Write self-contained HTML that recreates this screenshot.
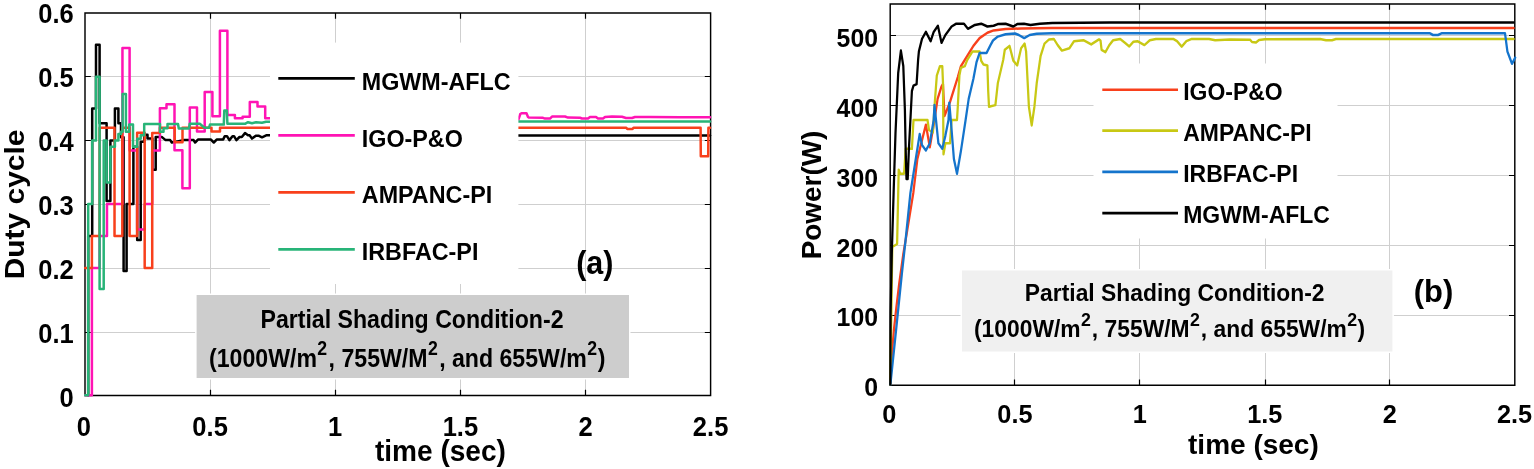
<!DOCTYPE html>
<html lang="en"><head><meta charset="utf-8"><title>Partial Shading Condition-2</title>
<style>
html,body{margin:0;padding:0;background:#fff;}
body{width:1534px;height:469px;overflow:hidden;font-family:"Liberation Sans",Arial,Helvetica,sans-serif;}
svg{display:block;}
text{font-family:"Liberation Sans",Arial,Helvetica,sans-serif;font-weight:bold;fill:#000;}
.tk{font-size:27px;}
.tkr{font-size:26.5px;}
.tkx{font-size:25.3px;}
.lgr{font-size:23.2px;}
.lg{font-size:24.5px;}
.ax{font-size:28px;}
.bx{font-size:25.5px;}
.pa{font-size:32.8px;}
.axr{font-size:28px;}
.axb{font-size:29px;}
.pb{font-size:31px;}
.bxr{font-size:23.8px;}
.g{stroke:#cfcfcf;stroke-width:1;fill:none;}
.a{stroke:#000;stroke-width:1.45;fill:none;}
.t{stroke:#000;stroke-width:1.2;fill:none;}
.c{fill:none;stroke-width:2.5;stroke-linejoin:round;stroke-linecap:round;}
</style></head><body>
<svg width="1534" height="469" viewBox="0 0 1534 469">
<rect width="1534" height="469" fill="#fff"/>
<path class="g" d="M210.5 12.9V395.5"/>
<path class="g" d="M335.5 12.9V395.5"/>
<path class="g" d="M460.5 12.9V395.5"/>
<path class="g" d="M585.5 12.9V395.5"/>
<path class="g" d="M85.0 76.5H710.6"/>
<path class="g" d="M85.0 140.5H710.6"/>
<path class="g" d="M85.0 204.5H710.6"/>
<path class="g" d="M85.0 268.5H710.6"/>
<path class="g" d="M85.0 332.5H710.6"/>
<path class="a" d="M85.0 12.9H710.6V395.5H85.0Z"/>
<path class="t" d="M210.5 395.5v-5.8M210.5 12.9v5.8M335.5 395.5v-5.8M335.5 12.9v5.8M460.5 395.5v-5.8M460.5 12.9v5.8M585.5 395.5v-5.8M585.5 12.9v5.8M85.0 76.5h5.8M710.6 76.5h-5.8M85.0 140.5h5.8M710.6 140.5h-5.8M85.0 204.5h5.8M710.6 204.5h-5.8M85.0 268.5h5.8M710.6 268.5h-5.8M85.0 332.5h5.8M710.6 332.5h-5.8"/>
<path class="c" stroke="#000000" stroke-width="2.55" d="M88.20 395.3L88.21 395.3L88.21 236.0L92.20 236.0L92.20 108.6L96.00 108.6L96.00 44.8L99.60 44.8L99.60 123.2L106.60 123.2L106.60 201.0L110.40 201.0L110.40 140.4L114.90 140.4L114.90 108.6L118.40 108.6L118.40 123.2L121.00 123.2L121.00 137.2L123.60 137.2L123.60 271.0L126.60 271.0L126.60 204.1L133.40 204.1L133.40 146.8L137.20 146.8L137.20 240.1L140.70 240.1L140.70 141.7L144.20 141.7L144.20 134.7L147.50 134.7L147.50 138.5L152.40 138.5L152.40 169.7L155.70 169.7L155.70 136.9L161.70 136.9L165.60 140.1L170.20 140.1L171.80 142.5L175.00 142.0L183.50 140.1L193.60 140.1L195.10 142.5L198.20 139.4L210.70 139.4L213.80 142.5L216.90 139.4L223.20 139.4L224.70 136.2L227.00 136.2L229.40 140.1L232.50 136.2L234.00 136.2L236.40 140.1L239.50 137.0L241.80 137.0L245.00 133.1L248.00 135.2L249.60 135.2L252.00 138.6L255.80 135.8L259.00 135.8L262.00 137.3L266.70 135.2L269.80 135.2"/>
<path class="c" stroke="#000000" stroke-width="2.55" d="M518.40 135.5L710.00 135.5"/>
<path class="c" stroke="#ff14b4" stroke-width="2.55" d="M85.20 395.3L91.90 395.3L91.90 267.9L99.60 267.9L99.60 236.0L106.98 236.0L106.98 204.1L122.45 204.1L122.45 48.0L129.60 48.0L129.60 150.6L137.14 150.6L137.14 229.6L144.68 229.6L144.68 204.1L152.22 204.1L152.22 150.6L159.90 150.6L159.90 108.2L166.50 108.2L166.50 104.3L174.50 104.3L174.50 150.2L182.40 150.2L182.40 188.2L189.80 188.2L189.80 107.4L197.00 107.4L197.00 131.5L204.70 131.5L204.70 92.0L212.40 92.0L212.40 116.2L219.90 116.2L219.90 30.8L227.40 30.8L227.40 115.1L234.90 115.1L234.90 118.2L242.60 118.2L242.60 116.8L249.80 116.8L249.80 101.9L257.50 101.9L257.50 106.6L265.20 106.6L265.20 118.2L270.00 118.2"/>
<path class="c" stroke="#ff14b4" stroke-width="2.55" d="M518.40 119.5L520.30 114.0L521.50 113.2L526.50 113.2L528.00 117.0L529.00 117.6L543.00 117.8L545.00 118.6L550.00 118.6L552.00 116.6L565.00 116.5L568.00 117.6L580.00 117.8L582.00 118.5L588.00 118.5L590.00 117.0L596.00 117.0L598.00 118.5L603.00 118.5L605.00 117.0L612.00 116.6L622.00 116.8L626.00 118.0L632.00 118.0L635.00 117.0L650.00 117.0L680.00 117.3L710.00 117.3"/>
<path class="c" stroke="#f8401c" stroke-width="2.55" d="M85.20 267.9L91.90 267.9L91.90 236.0L99.60 236.0L99.60 127.7L114.52 127.7L114.52 236.0L122.30 236.0L122.30 127.7L129.60 127.7L129.60 236.0L137.14 236.0L137.14 132.8L144.68 132.8L144.68 267.9L152.22 267.9L152.22 133.1L159.90 133.1L159.90 127.7L174.70 127.7L174.70 142.3L182.50 142.3L182.50 127.7L211.50 127.7L211.50 131.5L220.00 131.5L220.00 127.7L270.00 127.7"/>
<path class="c" stroke="#f8401c" stroke-width="2.55" d="M518.40 127.7L626.30 127.7L627.30 129.0L632.50 129.0L633.50 127.7L700.60 127.7L700.80 156.2L708.20 156.2L708.40 127.7L710.00 127.7"/>
<path class="c" stroke="#28b478" stroke-width="2.55" d="M85.20 395.3L88.20 395.3L88.20 204.1L92.20 204.1L92.20 140.4L96.00 140.4L96.00 76.7L99.60 76.7L99.60 288.9L103.70 288.9L103.70 140.4L106.60 140.4L106.60 182.5L110.40 182.5L110.40 146.8L114.90 146.8L114.90 140.4L118.40 140.4L118.40 134.0L121.00 134.0L121.00 131.7L122.60 131.7L122.60 93.9L125.90 93.9L125.90 131.7L129.20 131.7L129.20 124.5L133.00 124.5L133.00 146.8L137.20 146.8L137.20 138.7L140.70 138.7L140.70 135.3L144.20 135.3L144.20 124.0L160.00 124.0L160.00 131.7L163.50 131.7L163.50 128.3L167.50 128.3L167.50 124.0L178.00 124.0L178.80 128.5L189.00 128.5L189.70 123.8L199.80 123.8L204.50 127.7L209.00 127.7L210.00 124.6L223.80 124.6L224.30 110.6L226.80 110.6L227.40 123.8L245.00 123.8L248.00 122.2L252.00 123.3L256.00 122.2L262.00 122.8L266.00 121.8L270.00 121.8"/>
<path class="c" stroke="#28b478" stroke-width="2.55" d="M518.40 121.5L710.00 121.5"/>
<rect x="270" y="42.6" width="248.4" height="241.4" fill="#fff"/>
<rect x="196.6" y="295" width="432.4" height="83" fill="#cdcdcd" stroke="#fff" stroke-width="3" paint-order="stroke"/>
<text class="tk" transform="translate(83.8 436.2) scale(0.945 1)" text-anchor="middle">0</text>
<text class="tk" transform="translate(210.1 436.2) scale(0.945 1)" text-anchor="middle">0.5</text>
<text class="tk" transform="translate(335.2 436.2) scale(0.945 1)" text-anchor="middle">1</text>
<text class="tk" transform="translate(460.4 436.2) scale(0.945 1)" text-anchor="middle">1.5</text>
<text class="tk" transform="translate(585.5 436.2) scale(0.945 1)" text-anchor="middle">2</text>
<text class="tk" transform="translate(710.6 436.2) scale(0.945 1)" text-anchor="middle">2.5</text>
<text class="tk" transform="translate(73.8 407.0) scale(0.945 1)" text-anchor="end">0</text>
<text class="tk" transform="translate(73.8 343.0) scale(0.945 1)" text-anchor="end">0.1</text>
<text class="tk" transform="translate(73.8 279.0) scale(0.945 1)" text-anchor="end">0.2</text>
<text class="tk" transform="translate(73.8 215.0) scale(0.945 1)" text-anchor="end">0.3</text>
<text class="tk" transform="translate(73.8 151.0) scale(0.945 1)" text-anchor="end">0.4</text>
<text class="tk" transform="translate(73.8 87.0) scale(0.945 1)" text-anchor="end">0.5</text>
<text class="tk" transform="translate(73.8 23.0) scale(0.945 1)" text-anchor="end">0.6</text>
<text class="axb" transform="translate(440.4 460.9) scale(0.968 1)" text-anchor="middle">time (sec)</text>
<text class="ax" transform="translate(24 204.4) rotate(-90) scale(1.07 1)" text-anchor="middle">Duty cycle</text>
<path d="M278.3 78.4H354.8" stroke="#000000" stroke-width="2.7" fill="none"/>
<text class="lg" transform="translate(361.8 89.6) scale(0.952 1)" text-anchor="start">MGWM-AFLC</text>
<path d="M278.3 135.3H354.8" stroke="#ff14b4" stroke-width="2.7" fill="none"/>
<text class="lg" transform="translate(361.8 146.5) scale(0.952 1)" text-anchor="start">IGO-P&amp;O</text>
<path d="M278.3 192.4H354.8" stroke="#f8401c" stroke-width="2.7" fill="none"/>
<text class="lg" transform="translate(361.8 203.0) scale(0.952 1)" text-anchor="start">AMPANC-PI</text>
<path d="M278.3 249.3H354.8" stroke="#28b478" stroke-width="2.7" fill="none"/>
<text class="lg" transform="translate(361.8 259.7) scale(0.952 1)" text-anchor="start">IRBFAC-PI</text>
<text class="pa" transform="translate(594.8 273.5) scale(0.93 1)" text-anchor="middle">(a)</text>
<text class="bx" transform="translate(412.0 327.6) scale(0.907 1)" text-anchor="middle">Partial Shading Condition-2</text>
<text class="bx" transform="translate(407.2 366.6) scale(0.907 1)" text-anchor="middle">(1000W/m<tspan font-size="19.5" dy="-11.4" dx="0.45">2</tspan><tspan dy="11.4" dx="1.55">, 755W/M</tspan><tspan font-size="19.5" dy="-11.4" dx="0.45">2</tspan><tspan dy="11.4" dx="1.55">, and 655W/m</tspan><tspan font-size="19.5" dy="-11.4" dx="0.45">2</tspan><tspan dy="11.4" dx="0.6">)</tspan></text>
<path class="g" d="M1014.5 4.0V385.2"/>
<path class="g" d="M1139.5 4.0V385.2"/>
<path class="g" d="M1265.5 4.0V385.2"/>
<path class="g" d="M1389.5 4.0V385.2"/>
<path class="g" d="M890.2 35.5H1514.8"/>
<path class="g" d="M890.2 105.5H1514.8"/>
<path class="g" d="M890.2 175.5H1514.8"/>
<path class="g" d="M890.2 245.5H1514.8"/>
<path class="g" d="M890.2 315.5H1514.8"/>
<path class="a" d="M890.2 4.0H1514.8V385.2H890.2Z"/>
<path class="t" d="M1014.5 385.2v-5.8M1014.5 4.0v5.8M1139.5 385.2v-5.8M1139.5 4.0v5.8M1265.5 385.2v-5.8M1265.5 4.0v5.8M1389.5 385.2v-5.8M1389.5 4.0v5.8M890.2 35.5h5.8M1514.8 35.5h-5.8M890.2 105.5h5.8M1514.8 105.5h-5.8M890.2 175.5h5.8M1514.8 175.5h-5.8M890.2 245.5h5.8M1514.8 245.5h-5.8M890.2 315.5h5.8M1514.8 315.5h-5.8"/>
<path class="c" stroke="#f8401c" stroke-width="3.0" transform="scale(0.9 1)" d="M989.33 384.0L990.89 355.0L993.11 331.0L995.89 308.0L999.22 283.0L1003.67 254.0L1008.11 230.0L1014.78 193.0L1019.33 158.9L1023.56 143.3L1028.78 124.7L1033.11 147.2L1037.44 124.7L1041.78 98.9L1046.11 86.5L1047.78 84.0L1049.44 116.0L1055.56 102.0L1064.22 77.1L1067.67 66.2L1074.67 56.0L1081.56 45.9L1088.44 38.1L1097.11 32.7L1104.00 30.4L1117.33 29.1L1134.44 28.5L1168.89 28.0L1681.78 28.0"/>
<path class="c" stroke="#c8c814" stroke-width="2.3" transform="scale(0.9 1)" d="M989.22 384.5L991.44 247.0L996.78 244.0L998.56 169.8L1000.22 173.7L1004.56 173.7L1006.33 148.8L1013.22 148.8L1015.00 120.0L1030.56 120.0L1032.22 130.0L1036.56 132.5L1038.33 106.7L1040.89 75.6L1044.33 66.2L1047.00 66.2L1047.78 83.3L1048.33 154.2L1050.44 143.3L1055.56 143.3L1057.33 120.0L1063.33 120.0L1064.22 106.7L1066.00 75.6L1067.67 67.8L1072.00 66.2L1074.67 60.0L1080.67 51.4L1088.44 51.4L1090.22 60.7L1092.78 64.6L1097.11 65.4L1098.00 91.0L1098.89 106.7L1106.00 105.1L1108.67 83.3L1114.67 60.0L1116.44 49.8L1121.67 45.9L1125.89 60.7L1130.22 65.4L1134.56 48.2L1138.44 43.6L1140.11 51.4L1143.22 106.7L1146.33 125.4L1149.33 106.7L1151.89 83.3L1156.22 56.0L1160.56 43.6L1165.67 39.4L1170.89 38.9L1175.22 45.1L1179.89 50.6L1188.22 48.2L1193.33 41.2L1203.78 40.2L1212.44 44.4L1221.11 39.4L1222.78 40.5L1224.00 49.8L1228.22 52.1L1232.56 45.1L1236.89 40.2L1244.67 38.9L1249.89 42.8L1254.78 46.4L1259.44 41.7L1263.78 41.2L1271.56 45.1L1277.56 40.2L1284.44 38.9L1303.56 38.9L1307.78 41.2L1313.00 46.7L1318.22 41.2L1324.22 38.9L1343.33 38.9L1350.22 40.2L1355.56 40.0L1366.67 39.5L1388.89 39.7L1391.11 42.0L1395.56 42.5L1398.89 40.0L1405.56 39.3L1466.67 39.0L1473.33 40.2L1480.00 40.2L1484.44 39.0L1681.78 38.9"/>
<path class="c" stroke="#1474cc" stroke-width="3.1" transform="scale(0.9 1)" d="M989.33 384.5L996.11 326.0L1002.22 272.6L1006.22 240.0L1011.56 193.0L1021.89 134.0L1024.44 144.9L1028.78 150.4L1033.11 143.3L1037.44 120.0L1038.33 105.1L1040.00 120.0L1042.67 143.3L1047.00 148.8L1050.44 135.6L1053.89 120.0L1054.78 102.8L1056.44 120.0L1059.89 158.9L1063.33 173.7L1067.67 151.1L1072.89 120.0L1076.33 98.9L1081.56 78.7L1085.00 62.3L1088.44 52.9L1096.22 52.9L1100.56 45.1L1103.33 40.5L1108.67 36.6L1117.33 34.2L1127.78 33.5L1132.00 35.0L1138.00 38.1L1144.11 35.0L1151.89 33.8L1168.89 33.2L1588.44 33.2L1592.22 35.0L1597.78 35.0L1602.22 33.2L1672.22 33.2L1674.89 51.4L1680.00 63.8L1683.56 57.6"/>
<path class="c" stroke="#000000" stroke-width="2.3" transform="scale(0.9 1)" d="M989.22 384.5L989.56 313.0L990.89 253.0L992.89 193.0L995.00 133.0L998.00 73.0L1001.00 50.6L1003.67 66.0L1005.44 110.0L1006.33 151.0L1007.22 179.0L1008.56 179.0L1009.78 151.0L1011.56 120.0L1013.22 91.0L1015.00 85.7L1018.44 84.1L1020.11 60.0L1021.00 51.4L1024.44 38.9L1028.78 31.9L1034.00 41.2L1037.44 31.9L1042.11 25.7L1046.11 42.8L1050.44 35.0L1057.33 26.5L1062.56 23.7L1071.11 23.7L1075.44 28.8L1083.22 24.9L1090.22 23.7L1097.11 26.5L1104.00 25.7L1108.67 24.1L1117.33 23.7L1125.89 26.5L1130.22 24.1L1137.78 23.7L1145.00 24.9L1155.33 23.7L1169.22 23.0L1233.11 22.6L1681.78 22.6"/>
<rect x="1093.5" y="63.5" width="244" height="175" fill="#fff"/>
<rect x="962" y="270.5" width="430.4" height="81" fill="#f0f0f0" stroke="#fff" stroke-width="3" paint-order="stroke"/>
<text class="tkx" transform="translate(889.2 423.3) scale(1.0 1)" text-anchor="middle">0</text>
<text class="tkx" transform="translate(1014.9 423.3) scale(1.0 1)" text-anchor="middle">0.5</text>
<text class="tkx" transform="translate(1139.8 423.3) scale(1.0 1)" text-anchor="middle">1</text>
<text class="tkx" transform="translate(1264.8 423.3) scale(1.0 1)" text-anchor="middle">1.5</text>
<text class="tkx" transform="translate(1389.7 423.3) scale(1.0 1)" text-anchor="middle">2</text>
<text class="tkx" transform="translate(1514.6 423.3) scale(1.0 1)" text-anchor="middle">2.5</text>
<text class="tkr" transform="translate(878 396.1) scale(0.937 1)" text-anchor="end">0</text>
<text class="tkr" transform="translate(878 326.3) scale(0.937 1)" text-anchor="end">100</text>
<text class="tkr" transform="translate(878 256.5) scale(0.937 1)" text-anchor="end">200</text>
<text class="tkr" transform="translate(878 186.7) scale(0.937 1)" text-anchor="end">300</text>
<text class="tkr" transform="translate(878 116.9) scale(0.937 1)" text-anchor="end">400</text>
<text class="tkr" transform="translate(878 47.1) scale(0.937 1)" text-anchor="end">500</text>
<text class="axr" transform="translate(1253.4 453.8) scale(1.0 1)" text-anchor="middle">time (sec)</text>
<text class="ax" transform="translate(820.9 195) rotate(-90) scale(0.996 1)" text-anchor="middle">Power(W)</text>
<path d="M1102.3 89.8H1178" stroke="#f8401c" stroke-width="2.6" fill="none"/>
<text class="lgr" transform="translate(1183.2 100.1) scale(0.99 1)" text-anchor="start">IGO-P&amp;O</text>
<path d="M1102.3 130.6H1178" stroke="#c8c814" stroke-width="2.6" fill="none"/>
<text class="lgr" transform="translate(1183.2 140.9) scale(0.99 1)" text-anchor="start">AMPANC-PI</text>
<path d="M1102.3 171.9H1178" stroke="#1474cc" stroke-width="2.6" fill="none"/>
<text class="lgr" transform="translate(1183.2 182.2) scale(0.99 1)" text-anchor="start">IRBFAC-PI</text>
<path d="M1102.3 213.1H1178" stroke="#000000" stroke-width="2.6" fill="none"/>
<text class="lgr" transform="translate(1183.2 223.4) scale(0.99 1)" text-anchor="start">MGWM-AFLC</text>
<text class="pb" transform="translate(1433.5 301.9) scale(0.998 1)" text-anchor="middle">(b)</text>
<text class="bxr" transform="translate(1174.7 301.3) scale(0.961 1)" text-anchor="middle">Partial Shading Condition-2</text>
<text class="bxr" transform="translate(1169.6 336.6) scale(0.961 1)" text-anchor="middle">(1000W/m<tspan font-size="18.5" dy="-11.0" dx="0.4">2</tspan><tspan dy="11.0" dx="0.9">, 755W/M</tspan><tspan font-size="18.5" dy="-11.0" dx="0.4">2</tspan><tspan dy="11.0" dx="0.9">, and 655W/m</tspan><tspan font-size="18.5" dy="-11.0" dx="0.4">2</tspan><tspan dy="11.0" dx="0.5">)</tspan></text>
</svg></body></html>
